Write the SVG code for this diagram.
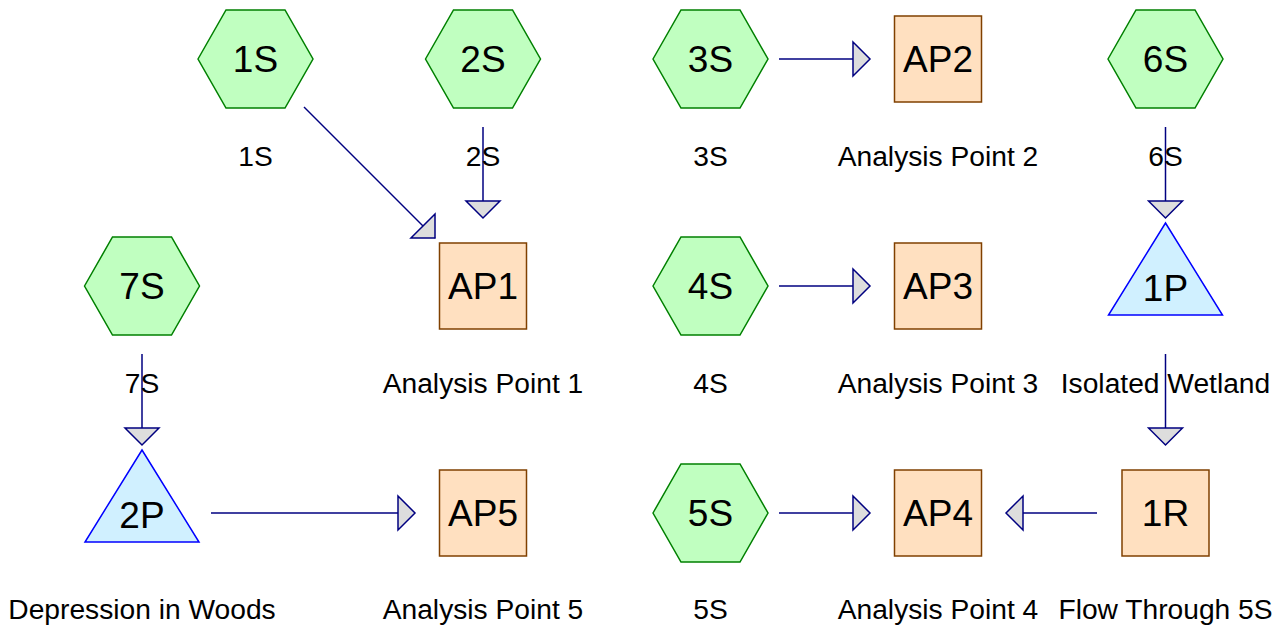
<svg xmlns="http://www.w3.org/2000/svg" width="1275" height="625" viewBox="0 0 1275 625">
<style>
.hex{fill:#c0ffc0;stroke:#008000;stroke-width:1.5}
.sq{fill:#ffe0c0;stroke:#804000;stroke-width:1.5}
.tri{fill:#d0f0ff;stroke:#0000ff;stroke-width:1.5}
.nt{font-family:"Liberation Sans",Arial,sans-serif;font-size:37px;fill:#000;text-anchor:middle}
.lb{font-family:"Liberation Sans",Arial,sans-serif;font-size:28.2px;fill:#000;text-anchor:middle}
.c{stroke:#000080;stroke-width:1.5;fill:none}
</style>
<defs>
<marker id="ah" markerUnits="userSpaceOnUse" markerWidth="22" markerHeight="38" viewBox="-1 -1 22 38" refX="18" refY="18" orient="auto">
<path d="M1,1 L18,18 L1,35 Z" fill="#dddddd" stroke="#000080" stroke-width="1.5" stroke-linejoin="miter"/>
</marker>
</defs>
<rect width="1275" height="625" fill="#ffffff"/>
<g id="connectors">
<line class="c" x1="304" y1="107" x2="435" y2="238" marker-end="url(#ah)"/>
<line class="c" x1="483" y1="127" x2="483" y2="218" marker-end="url(#ah)"/>
<line class="c" x1="779" y1="59" x2="870" y2="59" marker-end="url(#ah)"/>
<line class="c" x1="779" y1="286" x2="870" y2="286" marker-end="url(#ah)"/>
<line class="c" x1="779" y1="513" x2="870" y2="513" marker-end="url(#ah)"/>
<line class="c" x1="1165.5" y1="127" x2="1165.5" y2="218" marker-end="url(#ah)"/>
<line class="c" x1="1165.5" y1="354" x2="1165.5" y2="445" marker-end="url(#ah)"/>
<line class="c" x1="142" y1="354" x2="142" y2="445" marker-end="url(#ah)"/>
<line class="c" x1="211" y1="513" x2="415" y2="513" marker-end="url(#ah)"/>
<line class="c" x1="1097" y1="513" x2="1006" y2="513" marker-end="url(#ah)"/>
</g>
<g id="n1S"><polygon class="hex" points="198,59 226,10 285,10 313,59 285,108 226,108"/><text class="nt" x="255.5" y="72">1S</text><text class="lb" x="255.5" y="166">1S</text></g>
<g id="n2S"><polygon class="hex" points="425.5,59 453.5,10 512.5,10 540.5,59 512.5,108 453.5,108"/><text class="nt" x="483" y="72">2S</text><text class="lb" x="483" y="166">2S</text></g>
<g id="n3S"><polygon class="hex" points="653,59 681,10 740,10 768,59 740,108 681,108"/><text class="nt" x="710.5" y="72">3S</text><text class="lb" x="710.5" y="166">3S</text></g>
<g id="nAP2"><rect class="sq" x="894.5" y="16" width="87" height="86"/><text class="nt" x="938" y="72">AP2</text><text class="lb" x="938" y="166">Analysis Point 2</text></g>
<g id="n6S"><polygon class="hex" points="1108,59 1136,10 1195,10 1223,59 1195,108 1136,108"/><text class="nt" x="1165.5" y="72">6S</text><text class="lb" x="1165.5" y="166">6S</text></g>
<g id="n7S"><polygon class="hex" points="84.5,286 112.5,237 171.5,237 199.5,286 171.5,335 112.5,335"/><text class="nt" x="142" y="299">7S</text><text class="lb" x="142" y="393">7S</text></g>
<g id="nAP1"><rect class="sq" x="439.5" y="243" width="87" height="86"/><text class="nt" x="483" y="299">AP1</text><text class="lb" x="483" y="393">Analysis Point 1</text></g>
<g id="n4S"><polygon class="hex" points="653,286 681,237 740,237 768,286 740,335 681,335"/><text class="nt" x="710.5" y="299">4S</text><text class="lb" x="710.5" y="393">4S</text></g>
<g id="nAP3"><rect class="sq" x="894.5" y="243" width="87" height="86"/><text class="nt" x="938" y="299">AP3</text><text class="lb" x="938" y="393">Analysis Point 3</text></g>
<g id="n1P"><polygon class="tri" points="1165.5,223 1222.5,315 1108.5,315"/><text class="nt" x="1165.5" y="301">1P</text><text class="lb" x="1165.5" y="393">Isolated Wetland</text></g>
<g id="n2P"><polygon class="tri" points="142,450 199,542 85,542"/><text class="nt" x="142" y="528">2P</text><text class="lb" x="142" y="619">Depression in Woods</text></g>
<g id="nAP5"><rect class="sq" x="439.5" y="470" width="87" height="86"/><text class="nt" x="483" y="526">AP5</text><text class="lb" x="483" y="619">Analysis Point 5</text></g>
<g id="n5S"><polygon class="hex" points="653,513 681,464 740,464 768,513 740,562 681,562"/><text class="nt" x="710.5" y="526">5S</text><text class="lb" x="710.5" y="619">5S</text></g>
<g id="nAP4"><rect class="sq" x="894.5" y="470" width="87" height="86"/><text class="nt" x="938" y="526">AP4</text><text class="lb" x="938" y="619">Analysis Point 4</text></g>
<g id="n1R"><rect class="sq" x="1122" y="470" width="87" height="86"/><text class="nt" x="1165.5" y="526">1R</text><text class="lb" x="1165.5" y="619">Flow Through 5S</text></g>
</svg>
